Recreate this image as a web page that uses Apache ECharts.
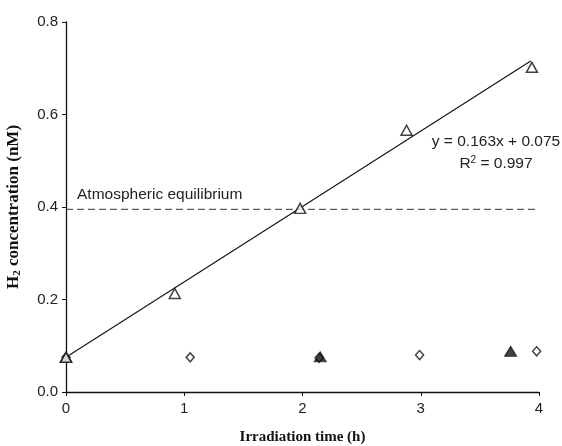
<!DOCTYPE html>
<html><head><meta charset="utf-8">
<script src="https://cdn.jsdelivr.net/npm/echarts@6/dist/echarts.min.js"></script>
<style>html,body{margin:0;padding:0;background:#fff}#c{width:562px;height:446px}</style>
</head><body><div id="c"></div>
<script>
// Open triangles (fitted series)
const openTriX = [0, 0.92, 1.98, 2.88, 3.94];
const openTriY = [0.075, 0.213, 0.397, 0.566, 0.702];
// Open diamonds
const diamondX = [0, 1.05, 2.14, 2.99, 3.98];
const diamondY = [0.075, 0.075, 0.074, 0.080, 0.088];
// Filled triangles
const fillTriX = [0, 2.15, 3.76];
const fillTriY = [0.075, 0.076, 0.088];
// Linear fit y = 0.163x + 0.075
const fitSlope = 0.163, fitIntercept = 0.075;
const fitRange = [0, 3.93];
// Atmospheric equilibrium
const atmLevel = 0.395;
const atmRange = [0, 4];
const xTicks = [0, 1, 2, 3, 4];
const yTicks = [0.0, 0.2, 0.4, 0.6, 0.8];

const zip = (xs, ys) => xs.map((x, i) => [x, ys[i]]);
const fitLine = fitRange.map(x => [x, fitSlope * x + fitIntercept]);
const atmLine = atmRange.map(x => [x, atmLevel]);

const chart = echarts.init(document.getElementById('c'));
const tickFont = {color: '#222', fontFamily: 'Liberation Sans, Arial, sans-serif', fontSize: 15};
const serifBold = {fontFamily: 'Liberation Serif, Times New Roman, serif', fontWeight: 'bold', fontSize: 15, color: '#111'};
const serifBoldY = Object.assign({}, serifBold, {fontSize: 17});
chart.setOption({
  animation: false,
  backgroundColor: '#fff',
  grid: {left: 66, right: 23, top: 22, bottom: 54, containLabel: false, outerBoundsMode: 'none'},
  xAxis: {
    type: 'value', min: 0, max: 4, interval: 1,
    axisLine: {lineStyle: {color: '#111', width: 1.3}},
    axisTick: {show: true, length: 4, lineStyle: {color: '#111'}},
    splitLine: {show: false},
    axisLabel: Object.assign({margin: 9, formatter: v => xTicks.includes(v) ? String(v) : ''}, tickFont),
    name: 'Irradiation time (h)', nameLocation: 'middle', nameGap: 38,
    nameTextStyle: serifBold
  },
  yAxis: {
    type: 'value', min: 0, max: 0.8, interval: 0.2,
    axisLine: {show: true, lineStyle: {color: '#111', width: 1.3}},
    axisTick: {show: true, length: 4, lineStyle: {color: '#111'}},
    splitLine: {show: false},
    axisLabel: Object.assign({margin: 8, formatter: v => v.toFixed(1)}, tickFont),
    name: '{b|H}{s|2}{b| concentration (nM)}', nameLocation: 'middle', nameGap: 43, nameRotate: 90,
    nameTextStyle: {rich: {
      b: serifBoldY,
      s: Object.assign({}, serifBoldY, {fontSize: 11, padding: [7, 0, 0, 0]})
    }}
  },
  series: [
    {type: 'line', data: atmLine, showSymbol: false, symbol: 'none',
     lineStyle: {color: '#333', width: 1, type: [7, 4]}, z: 1},
    {type: 'line', data: fitLine, showSymbol: false, symbol: 'none',
     lineStyle: {color: '#111', width: 1.1}, z: 2},
    {type: 'scatter', data: zip(diamondX, diamondY), symbol: 'diamond', symbolSize: [8, 9],
     itemStyle: {color: '#fff', borderColor: '#111', borderWidth: 1.5}, z: 3},
    {type: 'scatter', data: zip(fillTriX, fillTriY), symbol: 'triangle', symbolSize: [12, 10],
     itemStyle: {color: '#111', borderColor: '#111', borderWidth: 1}, z: 4},
    {type: 'scatter', data: zip(openTriX, openTriY), symbol: 'triangle', symbolSize: [11, 10],
     itemStyle: {color: '#fff', borderColor: '#111', borderWidth: 1.5}, z: 5}
  ],
  graphic: [
    {type: 'text', left: 77, top: 187, style: {text: 'Atmospheric equilibrium', fill: '#222', font: '15.5px Liberation Sans, Arial, sans-serif'}},
    {type: 'text', x: 496, y: 142, style: {text: 'y = 0.163x + 0.075', fill: '#222', align: 'center', verticalAlign: 'middle', font: '15.5px Liberation Sans, Arial, sans-serif'}},
    {type: 'text', x: 496, y: 164, style: {text: 'R{sup|2} = 0.997', fill: '#222', align: 'center', verticalAlign: 'middle', font: '15.5px Liberation Sans, Arial, sans-serif',
      rich: {sup: {fontSize: 10, fill: '#222', fontFamily: 'Liberation Sans, Arial, sans-serif', padding: [0, 0, 7, 0]}}}}
  ]
});
</script></body></html>
